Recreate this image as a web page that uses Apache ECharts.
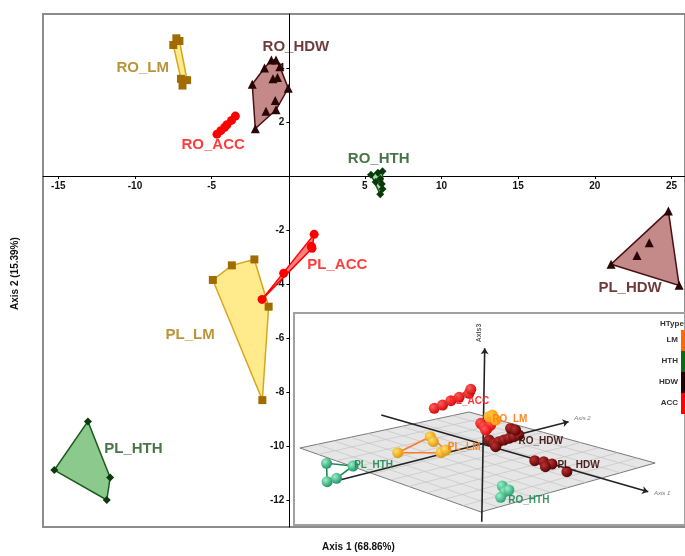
<!DOCTYPE html>
<html>
<head>
<meta charset="utf-8">
<script src="https://cdn.jsdelivr.net/npm/echarts@6/dist/echarts.min.js"></script>
<style>
  html, body { margin: 0; padding: 0; background: #fff; }
  #chart { width: 685px; height: 556px; }
</style>
</head>
<body>
<div id="chart"></div>
<script>
// main PCA scores (axis 1, axis 2)
var roLm = [[-7.3, 5.1], [-7.1, 5.0], [-7.5, 4.85], [-7.0, 3.6], [-6.6, 3.55], [-6.9, 3.35]]
var roHdw = [[-1.1, 4.3], [-0.8, 4.3], [-1.55, 4.0], [-0.55, 4.05], [-1.0, 3.6], [-0.7, 3.65],
  [-2.35, 3.4], [0, 3.25], [-0.85, 2.8], [-1.45, 2.4], [-0.8, 2.45], [-2.15, 1.75]]
var roAcc = [[-3.45, 2.22], [-3.7, 2.06], [-4.0, 1.9], [-4.15, 1.8], [-4.4, 1.68], [-4.65, 1.55]]
var roHth = [[5.4, 0.05], [5.85, 0.12], [6.15, 0.18], [6.0, -0.1], [6.1, -0.3], [6.15, -0.48], [6.0, -0.68], [5.7, -0.22]]
var plAcc = [[1.69, -2.16], [1.51, -2.6], [1.55, -2.68], [-0.3, -3.6], [-1.71, -4.57]]
var plLm = [[-4.92, -3.85], [-3.68, -3.31], [-2.21, -3.09], [-1.28, -4.84], [-1.69, -8.3]]
var plHdw = [[24.8, -1.3], [21.06, -3.27], [25.5, -4.05], [23.55, -2.47], [22.75, -2.94]]
var plHth = [[-13.07, -9.09], [-15.26, -10.89], [-11.62, -11.17], [-11.84, -12.0]]

var labelNames = ['RO_LM', 'RO_HDW', 'RO_ACC', 'RO_HTH', 'PL_ACC', 'PL_LM', 'PL_HDW', 'PL_HTH']
var labelPos = [[-9.5, 4.0], [0.5, 4.8], [-4.9, 1.15], [5.9, 0.62], [3.2, -3.28], [-6.4, -5.87], [22.3, -4.15], [-10.1, -10.12]]

var xTicks = [-15, -10, -5, 5, 10, 15, 20, 25]
var yTicks = [-12, -10, -8, -6, -4, -2, 2, 4]

// inset: 3D view projected onto the inset box (units = inset px)
var inPlane = [[6, 135], [176, 99], [363, 150], [188, 199]]
var inAxis1 = [[87.7, 102], [356, 178.7]]
var inAxis2 = [[46, 167], [276, 108.7]]
var inAxis3 = [[188.7, 208.7], [191.7, 35.3]]
var inPlAcc = [[141, 95.3], [149.3, 92], [157.7, 87.7], [166, 84.3], [176, 80.3], [177.7, 76.3]]
var inRoLm = [[196, 103.7], [199.3, 102], [202.7, 107]]
var inRoAcc = [[187.7, 110.3], [191, 113.7], [194.3, 115.3], [197.7, 112], [192.7, 117]]
var inRoHdw = [[196, 127], [201, 130.3], [206, 128.7], [211, 127], [216, 125.3], [221, 123.7],
  [226, 122], [202.7, 133.7], [217.7, 115.3], [222.7, 117]]
var inPlHdw = [[242, 147.7], [251, 148.7], [259.3, 151], [274.3, 158.7], [252.7, 153.7]]
var inPlLm = [[137, 123.7], [140, 128.7], [104.3, 139.7], [147.7, 139.7], [152.7, 137]]
var inPlHth = [[32.7, 150.3], [33.3, 168.7], [42.7, 165.3], [59.3, 153]]
var inRoHth = [[209.3, 173], [212, 178.7], [207.7, 184.3], [216, 177]]

var inLabelNames = ['PL_ACC', 'RO_LM', 'RO_HDW', 'PL_HDW', 'PL_LM', 'PL_HTH', 'RO_HTH']
var inLabelPos = [[176, 88], [217, 106], [248, 128], [286, 152], [171, 134], [80, 152], [236, 187]]
var inLabelColors = ['#ff2020', '#ff7a10', '#3a0a0a', '#3a0a0a', '#ff7a10', '#1f8a50', '#1f8a50']

var legendTypes = ['LM', 'HTH', 'HDW', 'ACC']
var legendColors = ['#ff6a00', '#0a6a1a', '#250000', '#ff0000']

var FONT = '"Liberation Sans", Arial, sans-serif'

function convexHull (pts) {
  var p = pts.slice().sort((a, b) => a[0] - b[0] || a[1] - b[1])
  var cross = (o, a, b) => (a[0] - o[0]) * (b[1] - o[1]) - (a[1] - o[1]) * (b[0] - o[0])
  var lower = []
  p.forEach(q => {
    while (lower.length >= 2 && cross(lower[lower.length - 2], lower[lower.length - 1], q) <= 0) lower.pop()
    lower.push(q)
  })
  var upper = []
  p.slice().reverse().forEach(q => {
    while (upper.length >= 2 && cross(upper[upper.length - 2], upper[upper.length - 1], q) <= 0) upper.pop()
    upper.push(q)
  })
  return lower.slice(0, -1).concat(upper.slice(0, -1))
}

function hullSeries (pts, fill, stroke, idx, z, width) {
  var hull = convexHull(pts)
  return {
    type: 'custom', xAxisIndex: idx, yAxisIndex: idx, z: z, silent: true,
    data: hull, encode: { x: 0, y: 1 },
    renderItem (params, api) {
      if (params.dataIndex !== 0) return
      return {
        type: 'polygon',
        shape: { points: hull.map(q => api.coord(q)) },
        style: { fill: fill, stroke: stroke, lineWidth: width || 1.5 }
      }
    }
  }
}

function pointSeries (pts, symbol, size, color, idx, z) {
  return {
    type: 'scatter', xAxisIndex: idx, yAxisIndex: idx, z: z, silent: true,
    symbol: symbol, symbolSize: size, data: pts,
    itemStyle: { color: color, opacity: 1 }
  }
}

function ball (c1, c2) {
  return { type: 'radial', x: 0.35, y: 0.35, r: 0.75, colorStops: [{ offset: 0, color: c1 }, { offset: 1, color: c2 }] }
}

var groups = [
  { pts: roLm, symbol: 'rect', size: 8, color: '#a06c00', fill: '#ffeb8c', stroke: '#d9a520' },
  { pts: plLm, symbol: 'rect', size: 8, color: '#a06c00', fill: '#ffeb8c', stroke: '#d9a520' },
  { pts: roHdw, symbol: 'triangle', size: 9, color: '#2a0505', fill: '#c48a8a', stroke: '#4a0f0f' },
  { pts: plHdw, symbol: 'triangle', size: 9, color: '#2a0505', fill: '#c48a8a', stroke: '#4a0f0f' },
  { pts: roAcc, symbol: 'circle', size: 9, color: '#ff0000', fill: '#ff8080', stroke: '#ff0000' },
  { pts: plAcc, symbol: 'circle', size: 9, color: '#ff0000', fill: '#ff8080', stroke: '#ff0000' },
  { pts: roHth, symbol: 'diamond', size: 8, color: '#0a3a0a', fill: '#a8dca8', stroke: '#1a5c1a' },
  { pts: plHth, symbol: 'diamond', size: 8, color: '#0a3a0a', fill: '#8cc98c', stroke: '#1a5c1a' }
]
var labelColors = ['#a87a08', '#4a0a0a', '#ff0a0a', '#1a521a', '#ff0a0a', '#a87a08', '#4a0a0a', '#1a521a']

var series = []
groups.forEach(g => {
  series.push(hullSeries(g.pts, g.fill, g.stroke, 0, 2))
  series.push(pointSeries(g.pts, g.symbol, g.size, g.color, 0, 3))
})
series.push({
  type: 'scatter', xAxisIndex: 0, yAxisIndex: 0, z: 4, silent: true, symbolSize: 0,
  data: labelPos.map((p, i) => ({
    value: p,
    label: { show: true, position: 'inside', formatter: labelNames[i], color: labelColors[i],
      fontFamily: FONT, fontWeight: 'bold', fontSize: 15 }
  }))
})

// inset plane with its grid
series.push({
  type: 'custom', xAxisIndex: 1, yAxisIndex: 1, z: 11, silent: true,
  data: inPlane, encode: { x: 0, y: 1 },
  renderItem (params, api) {
    if (params.dataIndex !== 0) return
    var c = inPlane.map(q => api.coord(q))
    var lerp = (a, b, t) => [a[0] + (b[0] - a[0]) * t, a[1] + (b[1] - a[1]) * t]
    var kids = [{ type: 'polygon', shape: { points: c }, style: { fill: '#e6e6e6', stroke: '#7a7a7a', lineWidth: 1 } }]
    for (var i = 1; i < 10; i++) {
      var t = i / 10
      var a = lerp(c[0], c[1], t); var b = lerp(c[3], c[2], t)
      kids.push({ type: 'line', shape: { x1: a[0], y1: a[1], x2: b[0], y2: b[1] }, style: { stroke: '#c4c4c4', lineWidth: 0.7 } })
      a = lerp(c[0], c[3], t); b = lerp(c[1], c[2], t)
      kids.push({ type: 'line', shape: { x1: a[0], y1: a[1], x2: b[0], y2: b[1] }, style: { stroke: '#c4c4c4', lineWidth: 0.7 } })
    }
    return { type: 'group', children: kids }
  }
})
series.push({
  type: 'lines', coordinateSystem: 'cartesian2d', xAxisIndex: 1, yAxisIndex: 1, z: 12, silent: true,
  symbol: ['none', 'arrow'], symbolSize: 6,
  lineStyle: { color: '#222', width: 1.6, opacity: 1 },
  data: [inAxis1, inAxis2, inAxis3].map(c => ({ coords: c }))
})
series.push(hullSeries(inPlLm, 'none', '#ff7a20', 1, 13, 1.6))
series.push(hullSeries(inPlHth, 'none', '#1f8a50', 1, 13, 1.6))
series.push(hullSeries(inPlAcc, 'none', '#ff2020', 1, 13, 1.6))
;[
  [inPlHth, '#9af0c8', '#138a5a'], [inRoHth, '#9af0c8', '#1f9a6a'],
  [inPlLm, '#ffe066', '#e08a00'], [inPlAcc, '#ff6060', '#cc0000'],
  [inRoAcc, '#ff5a5a', '#dd0000'], [inRoLm, '#ffcc40', '#ff8a00'],
  [inRoHdw, '#c03030', '#4a0000'], [inPlHdw, '#c03030', '#4a0000']
].forEach(d => {
  series.push(pointSeries(d[0], 'circle', 11, ball(d[1], d[2]), 1, 14))
})
series.push({
  type: 'scatter', xAxisIndex: 1, yAxisIndex: 1, z: 15, silent: true, symbolSize: 0,
  data: inLabelPos.map((p, i) => ({
    value: p,
    label: { show: true, position: 'inside', formatter: inLabelNames[i], color: inLabelColors[i],
      fontFamily: FONT, fontWeight: 'bold', fontSize: 10, opacity: 0.9 }
  })).concat([
    { value: [inAxis3[1][0] - 6, 20], label: { show: true, position: 'inside', formatter: 'Axis3', rotate: 90, color: '#333', fontFamily: FONT, fontWeight: 'bold', fontSize: 7 } },
    { value: [inAxis2[1][0] + 14, 105], label: { show: true, position: 'inside', formatter: 'Axis 2', color: '#555', fontFamily: FONT, fontStyle: 'italic', fontSize: 6 } },
    { value: [inAxis1[1][0] + 14, 180], label: { show: true, position: 'inside', formatter: 'Axis 1', color: '#555', fontFamily: FONT, fontStyle: 'italic', fontSize: 6 } }
  ])
})

var axisLabelStyle = { fontFamily: FONT, fontWeight: 'bold', fontSize: 10, color: '#111' }

var graphics = [
  { type: 'text', left: 322, top: 542, z: 20, style: { text: 'Axis 1 (68.86%)', font: 'bold 10px ' + FONT, fill: '#111' } },
  { type: 'text', x: 10, y: 310, rotation: Math.PI / 2, z: 20, style: { text: 'Axis 2 (15.39%)', font: 'bold 10px ' + FONT, fill: '#111' } },
  { type: 'text', x: 660, y: 320, z: 20, style: { text: 'HType', font: 'bold 8px ' + FONT, fill: '#333' } }
]
legendTypes.forEach((t, i) => {
  graphics.push({ type: 'rect', shape: { x: 681, y: 330 + i * 21, width: 5, height: 21 }, z: 20, style: { fill: legendColors[i] } })
  graphics.push({ type: 'text', x: 678, y: 340 + i * 21, z: 20, style: { text: t, font: 'bold 8px ' + FONT, fill: '#333', align: 'right', verticalAlign: 'middle' } })
})

var xMin = -16, xMax = 645 / 15.4 - 16, yMin = -13, yMax = 6

var chart = echarts.init(document.getElementById('chart'))
chart.setOption({
  animation: false,
  backgroundColor: '#fff',
  grid: [
    { left: 43, top: 14, width: 645, height: 513, show: true, borderColor: '#8c8c8c', borderWidth: 2 },
    { left: 294, top: 313, width: 393, height: 212, show: true, backgroundColor: '#fff', borderColor: '#a0a0a0', borderWidth: 2, z: 10 }
  ],
  xAxis: [
    { gridIndex: 0, type: 'value', min: xMin, max: xMax, position: 'bottom',
      // move the whole axis (line, ticks, labels) up to y = 0
      offset: -513 * (0 - yMin) / (yMax - yMin),
      axisLine: { onZero: false, lineStyle: { color: '#000', width: 1 } },
      axisTick: { customValues: xTicks, length: 3, lineStyle: { color: '#000' } },
      axisLabel: Object.assign({ customValues: xTicks, margin: 5 }, axisLabelStyle),
      splitLine: { show: false } },
    { gridIndex: 1, type: 'value', min: 0, max: 393, show: false }
  ],
  yAxis: [
    { gridIndex: 0, type: 'value', min: yMin, max: yMax, position: 'left',
      offset: -645 * (0 - xMin) / (xMax - xMin),
      axisLine: { onZero: false, lineStyle: { color: '#000', width: 1 } },
      axisTick: { customValues: yTicks, length: 3, lineStyle: { color: '#000' } },
      axisLabel: Object.assign({ customValues: yTicks, margin: 5 }, axisLabelStyle),
      splitLine: { show: false } },
    { gridIndex: 1, type: 'value', min: 0, max: 212, inverse: true, show: false }
  ],
  graphic: graphics,
  series: series
})
</script>
</body>
</html>
